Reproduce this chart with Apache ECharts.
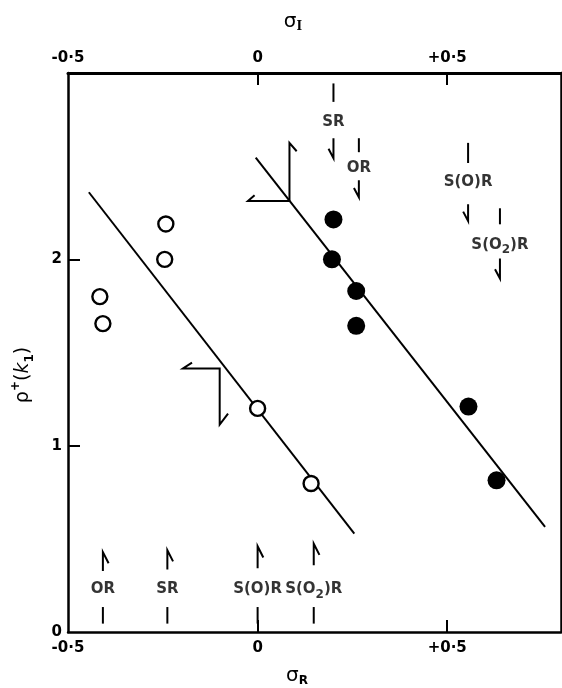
<!DOCTYPE html>
<html>
<head>
<meta charset="utf-8">
<script src="https://cdn.jsdelivr.net/npm/echarts@6/dist/echarts.min.js"></script>
<style>
  html, body { margin: 0; padding: 0; background: #fff; }
  #chart { width: 562px; height: 688px; }
</style>
</head>
<body>
<div id="chart"></div>
<script>
// 坐标轴刻度
const xTickValues = [-0.5, 0, 0.5];
const xTickLabels = ['-0·5', '0', '+0·5'];
const yTickValues = [0, 1, 2];
const yTickLabels = ['0', '1', '2'];

// 数据点 (σ, ρ+)
const openPoints = [[-0.416, 1.80], [-0.408, 1.655], [-0.242, 2.19], [-0.245, 2.0], [0.0, 1.2], [0.141, 0.797]];
const filledPoints = [[0.2, 2.214], [0.196, 2.0], [0.26, 1.83], [0.26, 1.643], [0.556, 1.21], [0.63, 0.814]];

// 两条拟合直线
const openFit = [[-0.445, 2.36], [0.255, 0.528]];
const filledFit = [[-0.005, 2.546], [0.758, 0.564]];

// 两个折角标记
const flagUpper = [[0.103, 2.58], [0.084, 2.625], [0.084, 2.313], [-0.0255, 2.313], [-0.008, 2.344]];
const flagLower = [[-0.173, 1.446], [-0.197, 1.414], [-0.1, 1.414], [-0.1, 1.113], [-0.078, 1.172]];

// 上方 σI 标注
const sigmaINames = ['SR', 'OR', 'S(O)R', 'S(O2)R'];
const sigmaIValues = [0.2, 0.267, 0.555, 0.639];
const sigmaILabelY = [2.738, 2.489, 2.415, 2.075];
const sigmaIBarY = [[2.944, 2.845], [2.65, 2.575], [2.625, 2.517], [2.274, 2.188]];
const sigmaIArrowY = [[2.65, 2.543], [2.425, 2.333], [2.296, 2.206], [2.004, 1.897]];

// 下方 σR 标注
const sigmaRNames = ['OR', 'SR', 'S(O)R', 'S(O2)R'];
const sigmaRValues = [-0.408, -0.238, 0.0, 0.148];
const sigmaRLabelY = [0.228, 0.228, 0.228, 0.228];
const sigmaRBarY = [[0.134, 0.045], [0.134, 0.045], [0.134, 0.045], [0.134, 0.045]];
const sigmaRArrowY = [[0.327, 0.429], [0.336, 0.439], [0.342, 0.46], [0.358, 0.474]];

const FONT = 'DejaVu Sans';
const INK = '#000';

/**
 * 把取代基名称转成富文本（O2 的 2 写成下标）
 */
function formatName(name) {
    if (name === 'S(O2)R') {
        return '{t|S(O}{s|2}{t|)R}';
    }
    return '{t|' + name + '}';
}

const nameRich = {
    t: { fontFamily: FONT, fontWeight: 'bold', fontSize: 15, color: INK, lineHeight: 22 },
    s: { fontFamily: FONT, fontWeight: 'bold', fontSize: 12, color: INK, lineHeight: 12, verticalAlign: 'bottom' }
};

// 构建箭头和竖线的折线
const annotationPaths = [];
sigmaIValues.forEach((x, i) => {
    annotationPaths.push({ coords: [[x, sigmaIBarY[i][0]], [x, sigmaIBarY[i][1]]] });
    const top = sigmaIArrowY[i][0];
    const bottom = sigmaIArrowY[i][1];
    annotationPaths.push({ coords: [[x, top], [x, bottom], [x - 0.013, bottom + 0.05]] });
});
sigmaRValues.forEach((x, i) => {
    annotationPaths.push({ coords: [[x, sigmaRBarY[i][0]], [x, sigmaRBarY[i][1]]] });
    const bottom = sigmaRArrowY[i][0];
    const top = sigmaRArrowY[i][1];
    annotationPaths.push({ coords: [[x, bottom], [x, top], [x + 0.015, top - 0.06]] });
});

const labelData = [];
sigmaIValues.forEach((x, i) => labelData.push({ name: sigmaINames[i], value: [x, sigmaILabelY[i]] }));
sigmaRValues.forEach((x, i) => labelData.push({ name: sigmaRNames[i], value: [x, sigmaRLabelY[i]] }));

function tickLabel(values, labels) {
    return function (v) {
        const idx = values.findIndex(t => Math.abs(t - v) < 1e-9);
        return idx === -1 ? '' : labels[idx];
    };
}

const axisLineStyle = { color: INK, width: 2.5 };
const tickLabelStyle = { fontFamily: FONT, fontWeight: 'bold', fontSize: 15, color: INK };

const chart = echarts.init(document.getElementById('chart'), null, { renderer: 'canvas' });

const option = {
    backgroundColor: '#fff',
    animation: false,
    grid: { left: 68, right: 1, top: 73, bottom: 56, outerBoundsMode: 'none' },
    xAxis: [
        {
            type: 'value',
            position: 'bottom',
            min: -0.5, max: 0.8, interval: 0.5,
            axisLine: { show: true, onZero: false, lineStyle: axisLineStyle },
            axisTick: { show: true, inside: true, length: 12, customValues: [0, 0.5], lineStyle: { color: INK, width: 2 } },
            axisLabel: { customValues: xTickValues, formatter: tickLabel(xTickValues, xTickLabels), margin: 9, ...tickLabelStyle },
            splitLine: { show: false },
            name: '{g|σ}{s|R}',
            nameLocation: 'middle',
            nameGap: 33,
            nameTextStyle: {
                padding: [0, 35, 0, 0],
                rich: {
                    g: { fontFamily: 'DejaVu Sans', fontSize: 20, color: INK, lineHeight: 22 },
                    s: { fontFamily: FONT, fontWeight: 'bold', fontSize: 12, color: INK, lineHeight: 12, verticalAlign: 'bottom' }
                }
            }
        },
        {
            type: 'value',
            position: 'top',
            min: -0.5, max: 0.8, interval: 0.5,
            axisLine: { show: true, onZero: false, lineStyle: { color: INK, width: 3 } },
            axisTick: { show: true, inside: true, length: 12, customValues: [0, 0.5], lineStyle: { color: INK, width: 2 } },
            axisLabel: { customValues: xTickValues, formatter: tickLabel(xTickValues, xTickLabels), margin: 7, ...tickLabelStyle },
            splitLine: { show: false },
            name: '{g|σ}{s|I}',
            nameLocation: 'middle',
            nameGap: 40,
            nameTextStyle: {
                padding: [0, 43, 0, 0],
                rich: {
                    g: { fontFamily: 'DejaVu Sans', fontSize: 20, color: INK, lineHeight: 22 },
                    s: { fontFamily: 'DejaVu Serif', fontWeight: 'bold', fontSize: 12, color: INK, lineHeight: 12, verticalAlign: 'bottom' }
                }
            }
        }
    ],
    yAxis: [
        {
            type: 'value',
            position: 'left',
            min: 0, max: 3, interval: 1,
            axisLine: { show: true, onZero: false, lineStyle: axisLineStyle },
            axisTick: { show: true, inside: true, length: 12, customValues: [1, 2], lineStyle: { color: INK, width: 2 } },
            axisLabel: { customValues: yTickValues, formatter: tickLabel(yTickValues, yTickLabels), margin: 6, ...tickLabelStyle },
            splitLine: { show: false },
            name: '{g|ρ}{p|+}{g|(}{k|k}{s|1}{g|)}',
            nameLocation: 'middle',
            nameRotate: 90,
            nameGap: 32,
            nameTextStyle: {
                padding: [0, 45, 0, 0],
                rich: {
                    g: { fontFamily: 'DejaVu Sans', fontSize: 19, color: INK, lineHeight: 26 },
                    p: { fontFamily: FONT, fontWeight: 'bold', fontSize: 12, color: INK, lineHeight: 12, verticalAlign: 'top' },
                    k: { fontFamily: 'DejaVu Sans', fontStyle: 'italic', fontSize: 19, color: INK, lineHeight: 26 },
                    s: { fontFamily: FONT, fontWeight: 'bold', fontSize: 12, color: INK, lineHeight: 12, verticalAlign: 'bottom' }
                }
            }
        },
        {
            type: 'value',
            position: 'right',
            min: 0, max: 3, interval: 1,
            axisLine: { show: true, onZero: false, lineStyle: axisLineStyle },
            axisTick: { show: false },
            axisLabel: { show: false },
            splitLine: { show: false }
        }
    ],
    series: [
        {
            name: 'fit-open',
            type: 'line',
            data: openFit,
            showSymbol: false,
            lineStyle: { color: INK, width: 2 },
            silent: true,
            z: 2
        },
        {
            name: 'fit-filled',
            type: 'line',
            data: filledFit,
            showSymbol: false,
            lineStyle: { color: INK, width: 2 },
            silent: true,
            z: 2
        },
        {
            name: 'flags',
            type: 'lines',
            coordinateSystem: 'cartesian2d',
            polyline: true,
            data: [{ coords: flagUpper }, { coords: flagLower }],
            lineStyle: { color: INK, width: 2, opacity: 1 },
            silent: true,
            z: 2
        },
        {
            name: 'arrows',
            type: 'lines',
            coordinateSystem: 'cartesian2d',
            polyline: true,
            data: annotationPaths,
            lineStyle: { color: INK, width: 2, opacity: 1 },
            silent: true,
            z: 2
        },
        {
            name: 'labels',
            type: 'scatter',
            data: labelData,
            symbolSize: 0,
            label: {
                show: true,
                position: 'inside',
                formatter: p => formatName(p.name),
                rich: nameRich
            },
            silent: true,
            z: 3
        },
        {
            name: 'open',
            type: 'scatter',
            data: openPoints,
            symbol: 'circle',
            symbolSize: 15,
            itemStyle: { color: '#fff', borderColor: INK, borderWidth: 2.4, opacity: 1 },
            silent: true,
            z: 4
        },
        {
            name: 'filled',
            type: 'scatter',
            data: filledPoints,
            symbol: 'circle',
            symbolSize: 18,
            itemStyle: { color: INK, opacity: 1 },
            silent: true,
            z: 4
        }
    ]
};

chart.setOption(option);
</script>
</body>
</html>
